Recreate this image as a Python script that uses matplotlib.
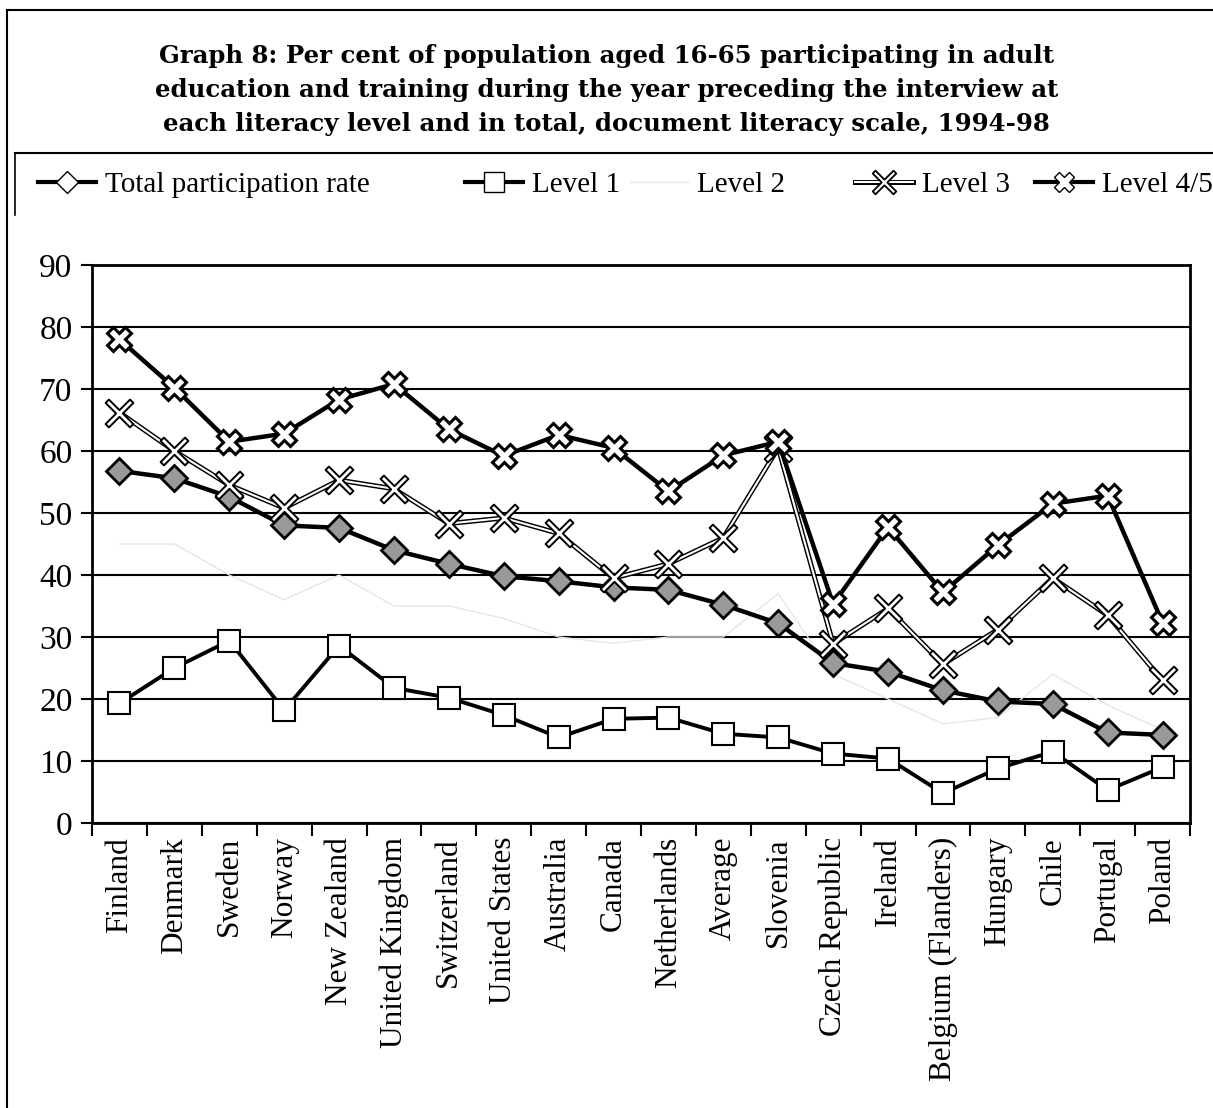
import matplotlib.pyplot as plt
import matplotlib.patheffects as pe
from matplotlib.lines import Line2D
from matplotlib.path import Path

countries = ['Finland', 'Denmark', 'Sweden', 'Norway', 'New Zealand', 'United Kingdom',
             'Switzerland', 'United States', 'Australia', 'Canada', 'Netherlands', 'Average',
             'Slovenia', 'Czech Republic', 'Ireland', 'Belgium (Flanders)', 'Hungary', 'Chile',
             'Portugal', 'Poland']

total = [56.8, 55.6, 52.6, 48.0, 47.6, 44.0, 41.8, 39.8, 39.0, 38.0, 37.6, 35.2,
         32.2, 25.8, 24.4, 21.4, 19.6, 19.2, 14.6, 14.2]
level1 = [19.3, 25.0, 29.4, 18.2, 28.6, 21.8, 20.2, 17.4, 13.8, 16.8, 17.0, 14.4,
          13.8, 11.2, 10.4, 4.8, 8.8, 11.5, 5.3, 9.0]
level2 = [45.0, 45.0, 40.0, 36.0, 40.0, 35.0, 35.0, 33.0, 30.0, 29.0, 30.0, 30.0,
          37.0, 24.0, 20.0, 16.0, 17.0, 24.0, 19.0, 15.0]
level3 = [66.2, 60.0, 54.5, 50.8, 55.3, 53.9, 48.3, 49.2, 46.7, 39.5, 41.8, 46.0,
          60.5, 28.9, 34.6, 25.6, 31.2, 39.5, 33.5, 23.0]
level45 = [78.0, 70.2, 61.5, 62.8, 68.3, 70.8, 63.5, 59.2, 62.6, 60.5, 53.5, 59.3,
           61.5, 35.3, 47.7, 37.2, 44.8, 51.5, 52.8, 32.3]

plt.rcParams['font.family'] = ['Liberation Serif', 'DejaVu Serif']

# thin x-shaped marker for level 3 (white inside, black outline)
a, b = 0.24, 1.0
thin_x = Path([(0, a), (b - a, b), (b, b - a), (a, 0), (b, -b + a), (b - a, -b), (0, -a),
               (-b + a, -b), (-b, -b + a), (-a, 0), (-b, b - a), (-b + a, b), (0, a)],
              closed=True)
double = [pe.Stroke(linewidth=3.6, foreground='black'), pe.Normal()]

W, H = 1213, 1108
fig = plt.figure(figsize=(W / 100, H / 100), dpi=100)
ax = fig.add_axes([92 / W, 1 - 823 / H, (1190 - 92) / W, (823 - 265) / H])

x = list(range(len(countries)))

ax.plot(x, level2, color='#e6e6e6', lw=1.0, zorder=2)

ax.plot(x, level1, color='black', lw=2.8, marker='s', ms=16, mfc='white',
        mec='black', mew=1.5, zorder=3)

ax.plot(x, total, color='black', lw=3.2, marker='D', ms=13, mfc='#999999',
        mec='black', mew=2, zorder=4)

# level 3: double (white) line, markers drawn on top without the outline effect
ax.plot(x, level3, color='white', lw=1.5, zorder=5, path_effects=double)
ax.plot(x, level3, ls='none', marker=thin_x, ms=20, mfc='white', mec='black',
        mew=1.4, zorder=5.5)

ax.plot(x, level45, color='black', lw=3.2, marker='X', ms=17, mfc='white',
        mec='black', mew=2.2, zorder=6)

ax.set_xlim(-0.5, len(countries) - 0.5)
ax.set_ylim(0, 90)
ax.set_yticks(range(0, 91, 10))
ax.yaxis.grid(True, color='black', lw=1.5)
ax.set_axisbelow(True)
ax.set_xticks([i - 0.5 for i in range(len(countries) + 1)])
ax.set_xticklabels([])
ax.set_xticks(x, minor=True)
ax.set_xticklabels(countries, minor=True, rotation=90, fontsize=22.5)
ax.tick_params(axis='x', which='minor', length=0, pad=10)
ax.tick_params(axis='x', which='major', length=9, width=1.5)
ax.tick_params(axis='y', length=8, width=1.5, labelsize=24, pad=6)
for s in ax.spines.values():
    s.set_linewidth(2)

fig.text(0.5, 1 - 90 / H,
         'Graph 8: Per cent of population aged 16-65 participating in adult\n'
         'education and training during the year preceding the interview at\n'
         'each literacy level and in total, document literacy scale, 1994-98',
         ha='center', va='center', fontsize=17.6, fontweight='bold', linespacing=1.5,
         family='DejaVu Serif')

# chart frame lines
fig.add_artist(Line2D([7 / W, 7 / W], [0, 1 - 10 / H], color='black', lw=1.5))
fig.add_artist(Line2D([7 / W, 1], [1 - 10 / H, 1 - 10 / H], color='black', lw=1.5))
fig.add_artist(Line2D([15 / W, 1], [1 - 153 / H, 1 - 153 / H], color='black', lw=1.5))
fig.add_artist(Line2D([15 / W, 15 / W], [1 - 215 / H, 1 - 153 / H], color='black', lw=1.2))

handles = [
    Line2D([], [], color='black', lw=3, marker='D', ms=11, mfc='white', mec='black'),
    Line2D([], [], color='black', lw=3, marker='s', ms=14, mfc='white', mec='black'),
    Line2D([], [], color='#e6e6e6', lw=1),
    (Line2D([], [], color='white', lw=1.5, path_effects=double),
     Line2D([], [], ls='none', marker=thin_x, ms=17, mfc='white', mec='black', mew=1.3)),
    Line2D([], [], color='black', lw=3, marker='X', ms=14, mfc='white', mec='black'),
]
labels = ['Total participation rate', 'Level 1', 'Level 2', 'Level 3', 'Level 4/5']
starts = [38, 465, 630, 855, 1035]
for h, lab, x0 in zip(handles, labels, starts):
    fig.legend([h], [lab], loc='center left', bbox_to_anchor=(x0 / W, 1 - 185 / H),
               frameon=False, fontsize=21, handlelength=2.0, handletextpad=0.3,
               borderpad=0, borderaxespad=0)

fig.savefig('out.png', dpi=100)
